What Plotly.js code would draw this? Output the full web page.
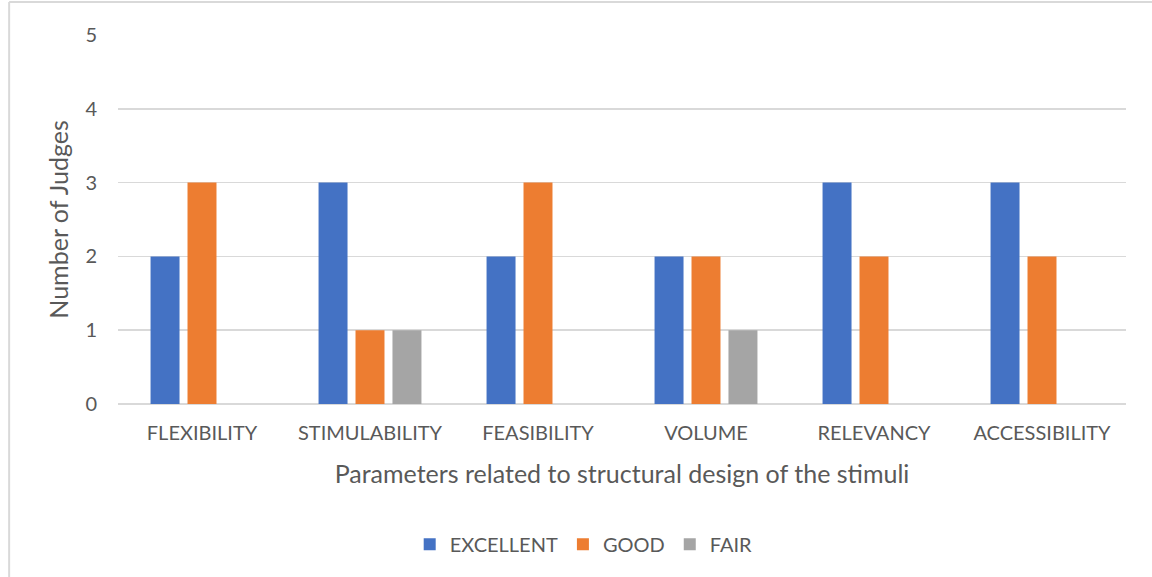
<!DOCTYPE html>
<html><head><meta charset="utf-8">
<script src="https://cdn.plot.ly/plotly-3.0.1.min.js"></script>
<style>html,body{margin:0;padding:0;background:#fff}#chart{width:1152px;height:577px}</style>
</head><body><div id="chart"></div>
<script>
const categories = ["FLEXIBILITY","STIMULABILITY","FEASIBILITY","VOLUME","RELEVANCY","ACCESSIBILITY"];
const excellent = [2,3,2,2,3,3];
const good = [3,1,3,2,2,2];
const fair = [0,1,0,1,0,0];
const seriesNames = ["EXCELLENT","GOOD","FAIR"];
const colors = ["#4472C4","#ED7D31","#A5A5A5"];
const font = "Lato, Open Sans, sans-serif";
const traces = [excellent, good, fair].map((v,i)=>({
  type:"bar", x:categories, y:v, name:seriesNames[i],
  marker:{color:colors[i]}, hoverinfo:"none"
}));
const layout = {
  width:1152, height:577,
  margin:{l:118, r:26, t:35, b:173},
  paper_bgcolor:"#fff", plot_bgcolor:"#fff",
  barmode:"group", bargap:0.34, bargroupgap:0.216,
  font:{family:font, color:"#595959", size:20},
  xaxis:{
    title:{text:"Parameters related to structural design of the stimuli", font:{size:25, color:"#595959"}, standoff:22},
    tickfont:{size:20, color:"#595959"}, showgrid:false, zeroline:false,
    showline:false, ticks:"", ticklabelstandoff:15, automargin:false
  },
  yaxis:{
    title:{text:"Number of Judges", font:{size:25, color:"#595959"}, standoff:9},
    range:[0,5], dtick:1, tickfont:{size:20, color:"#595959"},
    gridcolor:"#D9D9D9", gridwidth:1.5, zeroline:true, zerolinecolor:"#D9D9D9", zerolinewidth:2,
    showline:false, ticks:"", ticklabelstandoff:20, automargin:false
  },
  legend:{orientation:"h", x:0.462, xanchor:"center", y:-0.38, yanchor:"middle",
    font:{size:20, color:"#595959"}, itemwidth:30, traceorder:"normal"},
  shapes:[
    {type:"line", xref:"paper", yref:"paper", x0:-0.108, x1:1.03, y0:1.0893, y1:1.0893, line:{color:"#D9D9D9", width:2}},
    {type:"line", xref:"paper", yref:"paper", x0:-0.108, x1:-0.108, y0:-0.5, y1:1.0893, line:{color:"#D9D9D9", width:2}}
  ]
};
Plotly.newPlot("chart", traces, layout, {displayModeBar:false, staticPlot:true});
</script></body></html>
